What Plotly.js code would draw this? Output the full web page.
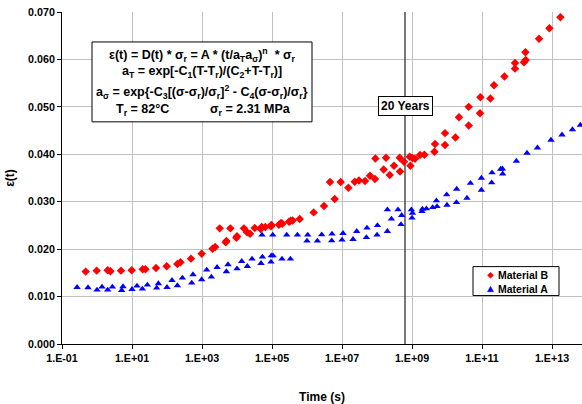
<!DOCTYPE html>
<html>
<head>
<meta charset="utf-8">
<script src="https://cdn.plot.ly/plotly-3.0.1.min.js"></script>
<style>html,body{margin:0;padding:0;background:#fff;}#chart{width:582px;height:404px;}</style>
</head>
<body>
<div id="chart"></div>
<script>
// Material B (red diamonds): time (s) and strain
const timeB = [0.475, 0.98, 2.02, 2.42, 4.85, 9.8, 20.2, 24.2, 48.5, 98, 198, 242, 485, 980,
  2.0e3, 2.38e3, 4.75e3, 4.98e3, 9.6e3, 1.0e4, 3.21e3, 6.47e3, 1.58e4, 1.93e4, 2.35e4, 3.21e4,
  4.75e4, 5.08e4, 6.47e4, 9.35e4, 9.6e4, 1.58e5, 1.81e5, 1.98e5, 3.06e5, 3.42e5, 3.9e5, 6.18e5,
  1.55e6, 3.06e6, 4.54e6, 6.18e6, 9.18e6, 1.52e7, 2.31e7, 3.06e7, 4.54e7, 6.31e7, 8.77e7, 9.0e7,
  1.55e8, 1.81e8, 2.31e8, 3.06e8, 4.46e8, 4.54e8, 5.9e8, 9.0e8, 8.6e8, 1.03e9, 1.22e9, 1.69e9,
  2.26e9, 4.37e9, 4.54e9, 8.77e9, 8.77e9, 1.74e10, 2.2e10, 4.17e10, 4.17e10, 8.77e10, 9.0e10,
  1.74e11, 2.2e11, 4.37e11, 8.77e11, 8.77e11, 1.58e12, 1.77e12, 1.74e12, 4.26e12, 8.43e12, 1.74e13];
const strainB = [0.01526, 0.01547, 0.01554, 0.01533, 0.01547, 0.01554, 0.01575, 0.01575, 0.01604, 0.01638, 0.01688, 0.01722, 0.0180, 0.01905,
  0.0201, 0.02046, 0.02143, 0.02173, 0.02242, 0.0227, 0.02438, 0.02438, 0.02438, 0.02354, 0.02326, 0.02446,
  0.02425, 0.02467, 0.02467, 0.0248, 0.0251, 0.02516, 0.02552, 0.02537, 0.02579, 0.026, 0.02606, 0.02636,
  0.02775, 0.0291, 0.03415, 0.03057, 0.03415, 0.03295, 0.03421, 0.03448, 0.03436, 0.03547, 0.03478, 0.03912,
  0.0368, 0.03926, 0.03562, 0.03758, 0.03926, 0.03638, 0.03842, 0.03758, 0.03947, 0.0392, 0.03905, 0.03983,
  0.03989, 0.04053, 0.04215, 0.04194, 0.04446, 0.04354, 0.04783, 0.04606, 0.05, 0.04867, 0.05204,
  0.05175, 0.05457, 0.05638, 0.05806, 0.05926, 0.05941, 0.0599, 0.06152, 0.06438, 0.06657, 0.06888];

// Material A (blue triangles): time (s) and strain
const timeA = [0.269, 0.553, 1.0, 1.39, 2.02, 2.75, 5.08, 5.53, 10, 13.9, 19.8, 27.5, 50.8, 56.8, 100, 139, 198, 275, 508, 553, 980,
  1.36e3, 1.85e3, 2.69e3, 4.98e3, 5.53e3, 1.0e4, 1.36e4, 1.98e4, 2.69e4, 4.85e4, 5.32e4, 9.35e4, 9.6e4, 1.07e5, 1.93e5, 3.36e5,
  5.18e4, 1.05e5, 2.63e5, 5.32e5, 1.05e6, 1.0e6, 1.98e6, 2.63e6, 5.18e6, 5.08e6, 1.07e7, 1.0e7, 2.06e7, 2.63e7, 4.98e7, 5.18e7,
  1.0e8, 1.03e8, 1.98e8, 1.98e8, 2.58e8, 3.98e8, 5.08e8, 4.85e8, 9.6e8, 1.03e9, 1.0e9, 1.98e9, 1.93e9, 2.58e9, 3.9e9, 4.98e9, 5.18e9,
  9.8e9, 1.0e10, 1.89e10, 1.86e10, 3.72e10, 4.67e10, 9.6e10, 9.6e10, 1.89e11, 1.93e11, 3.42e11, 3.83e11, 3.9e11, 9.6e11,
  1.93e12, 3.83e12, 9.35e12, 1.93e13, 3.83e13, 6.47e13];
const strainA = [0.01196, 0.01189, 0.01141, 0.01204, 0.01141, 0.01204, 0.01133, 0.01211, 0.01154, 0.01225, 0.01162, 0.01246, 0.01183, 0.01274, 0.01196, 0.01343, 0.01232, 0.01394, 0.01288, 0.01463, 0.01358,
  0.01562, 0.01415, 0.01617, 0.01526, 0.01674, 0.01589, 0.01743, 0.01638, 0.01794, 0.01701, 0.01836, 0.01731, 0.01863, 0.01863, 0.01794, 0.01794,
  0.02299, 0.02299, 0.02299, 0.02299, 0.02299, 0.02173, 0.02173, 0.02305, 0.0232, 0.02179, 0.02333, 0.02194, 0.02206, 0.02375, 0.02248, 0.02446,
  0.02299, 0.02501, 0.02375, 0.02832, 0.02636, 0.02832, 0.02712, 0.02522, 0.02832, 0.02762, 0.02657, 0.02846, 0.02796, 0.02853, 0.0288, 0.03021, 0.02901,
  0.03147, 0.0293, 0.03267, 0.02985, 0.03078, 0.0339, 0.03246, 0.03499, 0.034, 0.03611, 0.03688, 0.03695, 0.03589, 0.03857,
  0.04025, 0.04137, 0.04299, 0.04411, 0.04522, 0.04615];

const seriesNames = ['Material B', 'Material A'];
const seriesColors = ['#FF0000', '#0000FF'];
const twentyYears = 6.31e8; // seconds
const xTickVals = [1e-1, 1e1, 1e3, 1e5, 1e7, 1e9, 1e11, 1e13];
const xTickText = ['1.E-01', '1.E+01', '1.E+03', '1.E+05', '1.E+07', '1.E+09', '1.E+11', '1.E+13'];
const yTickVals = [0, 0.01, 0.02, 0.03, 0.04, 0.05, 0.06, 0.07];
const eqLines = [
  'ε(t) = D(t) * σ<sub>r</sub> = A * (t/a<sub>T</sub>a<sub>σ</sub>)<sup>n</sup>  * σ<sub>r</sub>',
  'a<sub>T</sub> = exp[-C<sub>1</sub>(T-T<sub>r</sub>)/(C<sub>2</sub>+T-T<sub>r</sub>)]',
  'a<sub>σ</sub> = exp{-C<sub>3</sub>[(σ-σ<sub>r</sub>)/σ<sub>r</sub>]<sup>2</sup> - C<sub>4</sub>(σ-σ<sub>r</sub>)/σ<sub>r</sub>}'
];
const refTempText = 'T<sub>r</sub> = 82°C';
const refStressText = 'σ<sub>r</sub> = 2.31 MPa';

const FONT = 'Arial, "Liberation Sans", sans-serif';

const traces = [
  {x: [twentyYears, twentyYears], y: [0, 0.07], mode: 'lines', line: {color: '#303030', width: 1.3},
   showlegend: false, hoverinfo: 'skip'},
  {x: timeB, y: strainB, mode: 'markers', name: seriesNames[0],
   marker: {symbol: 'diamond', size: 6.5, color: seriesColors[0]}},
  {x: timeA, y: strainA, mode: 'markers', name: seriesNames[1],
   marker: {symbol: 'triangle-up', size: 6.5, color: seriesColors[1]}}
];

// pixel -> paper helpers for the plot area (l=62, t=12, w=520, h=332.5)
const px = v => (v - 62) / 520;
const py = v => (344.5 - v) / 332.5;

const eqY = [55, 72.5, 91.7];
const annotations = eqLines.map((t, i) => ({
  xref: 'paper', yref: 'paper', x: px(202), y: py(eqY[i]), xanchor: 'center', yanchor: 'middle',
  text: '<b>' + t + '</b>', showarrow: false, font: {family: FONT, size: 12.5, color: '#000'}
}));
annotations.push(
  {xref: 'paper', yref: 'paper', x: px(142), y: py(110), xanchor: 'center', yanchor: 'middle',
   text: '<b>' + refTempText + '</b>', showarrow: false, font: {family: FONT, size: 12.5, color: '#000'}},
  {xref: 'paper', yref: 'paper', x: px(250), y: py(110), xanchor: 'center', yanchor: 'middle',
   text: '<b>' + refStressText + '</b>', showarrow: false, font: {family: FONT, size: 12.5, color: '#000'}},
  {xref: 'x', yref: 'paper', x: Math.log10(twentyYears), y: py(105.8), xanchor: 'center', yanchor: 'middle',
   text: '<b>20 Years</b>', showarrow: false, bgcolor: '#fff', bordercolor: '#000', borderwidth: 1,
   borderpad: 2, font: {family: FONT, size: 12, color: '#000'}},
  {xref: 'paper', yref: 'paper', x: px(496), y: py(275.7), xanchor: 'left', yanchor: 'middle',
   text: '<b>' + seriesNames[0] + '</b>', showarrow: false, font: {family: FONT, size: 10.5, color: '#000'}},
  {xref: 'paper', yref: 'paper', x: px(496), y: py(289.7), xanchor: 'left', yanchor: 'middle',
   text: '<b>' + seriesNames[1] + '</b>', showarrow: false, font: {family: FONT, size: 10.5, color: '#000'}}
);

const shapes = [
  {type: 'rect', xref: 'paper', yref: 'paper', x0: px(92), x1: px(312), y0: py(122), y1: py(42),
   fillcolor: '#fff', line: {color: '#000', width: 1}, layer: 'above'},
  {type: 'rect', xref: 'paper', yref: 'paper', x0: px(473), x1: px(559), y0: py(296), y1: py(267),
   fillcolor: '#fff', line: {color: '#000', width: 1}, layer: 'above'},
  {type: 'path', xref: 'paper', yref: 'paper', xsizemode: 'pixel', ysizemode: 'pixel',
   xanchor: px(490.5), yanchor: py(275.7), path: 'M -3 0 L 0 3 L 3 0 L 0 -3 Z',
   fillcolor: seriesColors[0], line: {color: seriesColors[0], width: 0.5}, layer: 'above'},
  {type: 'path', xref: 'paper', yref: 'paper', xsizemode: 'pixel', ysizemode: 'pixel',
   xanchor: px(490.5), yanchor: py(289.7), path: 'M -3 -2.5 L 3 -2.5 L 0 3 Z',
   fillcolor: seriesColors[1], line: {color: seriesColors[1], width: 0.5}, layer: 'above'}
];

const layout = {
  width: 582, height: 404,
  margin: {l: 62, r: 0, t: 12, b: 59.5},
  paper_bgcolor: '#fff', plot_bgcolor: '#fff',
  font: {family: FONT, size: 11, color: '#000'},
  showlegend: false,
  xaxis: {type: 'log', range: [-1, 13.857], tickvals: xTickVals, ticktext: xTickText,
    showgrid: true, gridcolor: '#c0c0c0', gridwidth: 1,
    showline: true, linecolor: '#000', linewidth: 1, ticks: 'outside', ticklen: 4, tickcolor: '#000',
    tickfont: {family: FONT, size: 10.7, weight: 'bold'}, zeroline: false,
    title: {text: '<b>Time (s)</b>', font: {family: FONT, size: 12}, standoff: 30}},
  yaxis: {range: [0, 0.07], tickvals: yTickVals, tickformat: '.3f',
    showgrid: true, gridcolor: '#c0c0c0', gridwidth: 1,
    showline: true, linecolor: '#000', linewidth: 1, ticks: 'outside', ticklen: 4, tickcolor: '#000',
    tickfont: {family: FONT, size: 10.7, weight: 'bold'}, zeroline: false,
    title: {text: '<b>ε(t)</b>', font: {family: FONT, size: 12}, standoff: 10}},
  shapes: shapes,
  annotations: annotations
};

Plotly.newPlot('chart', traces, layout, {displayModeBar: false, staticPlot: true});
</script>
</body>
</html>
